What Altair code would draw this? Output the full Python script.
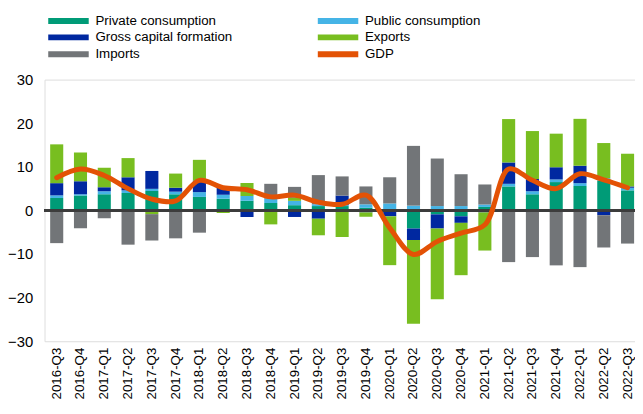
import altair as alt
import pandas as pd

quarters = ["2016-Q3", "2016-Q4", "2017-Q1", "2017-Q2", "2017-Q3", "2017-Q4",
            "2018-Q1", "2018-Q2", "2018-Q3", "2018-Q4", "2019-Q1", "2019-Q2",
            "2019-Q3", "2019-Q4", "2020-Q1", "2020-Q2", "2020-Q3", "2020-Q4",
            "2021-Q1", "2021-Q2", "2021-Q3", "2021-Q4", "2022-Q1", "2022-Q2",
            "2022-Q3"]

private_consumption = [2.85, 3.45, 3.7, 4.0, 4.45, 3.7, 3.1, 2.7, 2.2, 1.7, 1.2, 1.0,
                       1.0, 0.6, -0.3, -4.15, -0.9, -1.35, 0.8, 5.5, 3.7, 6.5, 5.6,
                       6.8, 4.6]
public_consumption = [0.6, 0.25, 0.7, 0.6, 0.5, 0.6, 1.1, 0.9, 1.1, 1.0, 1.0, 0.4,
                      0.2, 0.8, 1.6, 1.1, 1.0, 1.0, 0.55, 0.6, 0.7, 0.6, 0.65,
                      0.6, 0.6]
gross_capital_formation = [2.8, 3.0, 0.9, 3.0, 4.1, 0.9, 2.65, 1.75, -1.5, 0.0, -1.5,
                           -1.9, 2.2, -0.45, -1.05, -2.65, -3.25, -1.5, -0.45, 4.9,
                           2.8, 2.8, 4.0, -1.1, 0.3]
exports = [8.9, 6.6, 4.5, 4.4, -0.85, 3.25, 4.75, -0.6, 3.0, -3.2, 0.7, -3.8, -6.1,
           -1.0, -11.2, -19.2, -16.2, -12.0, -8.75, 9.95, 11.0, 7.7, 10.75, 8.05, 7.5]
imports = [-7.5, -4.1, -1.8, -7.85, -6.05, -6.4, -5.1, 0.0, 0.0, 3.4, 2.5, 6.7, 4.4,
           4.1, 6.0, 13.7, 10.9, 7.3, 4.6, -11.85, -10.7, -12.6, -13.0, -7.4, -7.6]
gdp = [7.5, 9.5, 8.0, 5.0, 2.6, 2.2, 6.9, 5.2, 4.75, 3.1, 3.5, 1.9, 1.4, 3.5, -4.0,
       -10.1, -7.1, -5.2, -3.3, 9.5, 6.9, 5.0, 8.4, 7.0, 5.2]

components = ["Private consumption", "Public consumption", "Gross capital formation",
              "Exports", "Imports"]
series = [private_consumption, public_consumption, gross_capital_formation,
          exports, imports]

# legend fills column by column: left column first, then right column
legend_names = ["Private consumption", "Gross capital formation", "Imports",
                "Public consumption", "Exports", "GDP"]
legend_colors = ["#009B77", "#0028A0", "#727578", "#45B4E6", "#78BE20", "#E35205"]

rows = []
for k, (name, vals) in enumerate(zip(components, series)):
    for q, v in zip(quarters, vals):
        rows.append({"quarter": q, "component": name, "value": v, "ord": k})
bars_df = pd.DataFrame(rows)
gdp_df = pd.DataFrame({"quarter": quarters, "GDP": gdp})

font = "Liberation Sans"
x_scale = alt.Scale(paddingInner=0.45, paddingOuter=0.137, align=0.864)
x_enc = alt.X("quarter:N", sort=quarters, title=None, scale=x_scale,
              axis=alt.Axis(labelAngle=270, labelFontSize=13.5, labelFont=font,
                            labelColor="#000000", ticks=False, domain=False,
                            labelPadding=6))

bars = alt.Chart(bars_df).mark_bar().encode(
    x=x_enc,
    y=alt.Y("value:Q", stack="zero", title=None,
            scale=alt.Scale(domain=[-30, 30], nice=False),
            axis=alt.Axis(values=[-30, -20, -10, 0, 10, 20, 30], grid=False,
                          domain=False, ticks=False, labelFontSize=15,
                          labelFont=font, labelColor="#000000", labelPadding=12)),
    color=alt.Color("component:N",
                    scale=alt.Scale(domain=legend_names, range=legend_colors),
                    legend=alt.Legend(orient="none", legendX=17.5, legendY=-66.5,
                                      columns=2, columnPadding=86, rowPadding=2,
                                      title=None,
                                      symbolType="M-4.1,-0.6L4.1,-0.6L4.1,0.6L-4.1,0.6Z",
                                      symbolSize=100, symbolStrokeWidth=0,
                                      labelFontSize=13.5, labelFont=font,
                                      labelColor="#000000", labelOffset=20.5)),
    order=alt.Order("ord:Q"),
)

zero = alt.Chart(bars_df).mark_rule(color="#3c3c3c", strokeWidth=1.5).encode(
    y=alt.datum(0)
)

line = alt.Chart(gdp_df).mark_line(
    interpolate="catmull-rom", strokeWidth=5, strokeCap="round",
    strokeJoin="round", color="#E35205"
).encode(
    x=alt.X("quarter:N", sort=quarters),
    y=alt.Y("GDP:Q"),
)

chart = alt.layer(bars, zero, line).properties(
    width=598, height=265,
    autosize=alt.AutoSizeParams(type="none"),
    padding={"left": 37, "top": 70, "right": 0, "bottom": 58},
).configure_view(stroke=None).configure(background="#ffffff")

chart.save("out.html", embed_options={"renderer": "svg", "actions": False})
